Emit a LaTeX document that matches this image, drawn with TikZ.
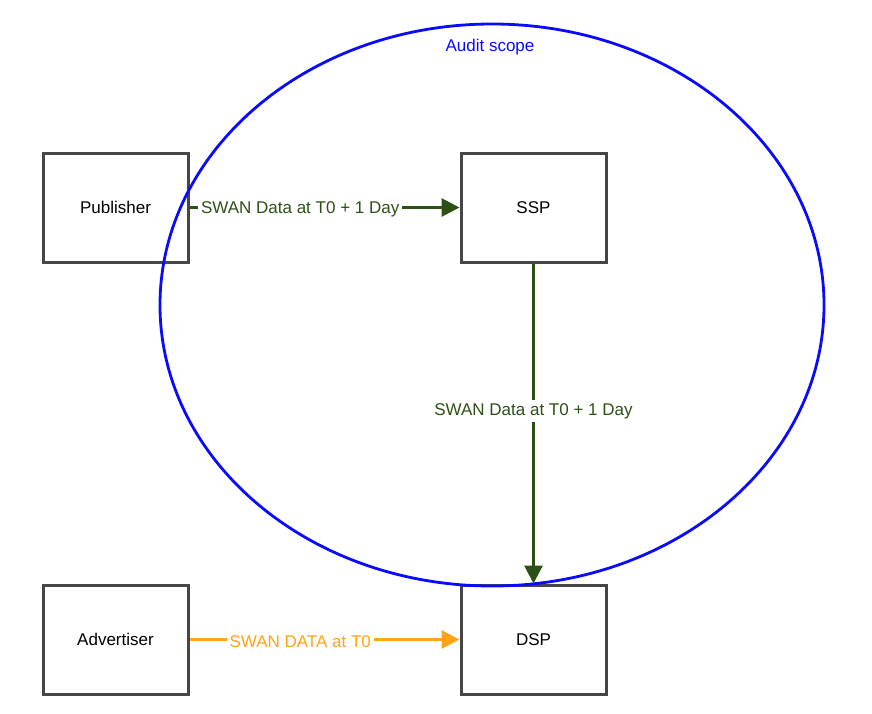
\documentclass[tikz,border=0pt]{standalone}
\usepackage{fontspec}
\setmainfont{Liberation Sans}
\usetikzlibrary{arrows.meta}
\definecolor{boxgray}{RGB}{70,70,70}
\definecolor{flowgreen}{RGB}{45,80,22}
\definecolor{floworange}{RGB}{255,163,26}
\definecolor{scopeblue}{RGB}{10,10,255}
\begin{document}
\begin{tikzpicture}[x=1pt,y=-1pt,
  actor/.style={draw=boxgray,line width=3pt,minimum width=145pt,minimum height=109pt,inner sep=0pt,font=\fontsize{17}{20}\selectfont},
  flow/.style={line width=3pt,-{Triangle[length=18pt,width=18pt]}},
  flowlabel/.style={fill=white,inner sep=3pt,yshift=-2pt,font=\fontsize{17}{20}\selectfont}]
\useasboundingbox (0,0) rectangle (872,713);
\node[actor] (pub) at (115.5,207.5) {Publisher};
\node[actor] (ssp) at (533.5,207.5) {SSP};
\node[actor] (adv) at (115.5,639.5) {Advertiser};
\node[actor] (dsp) at (533.5,639.5) {DSP};
\draw[scopeblue,line width=2.8pt] (492,305) ellipse [x radius=332,y radius=281];
\node[text=scopeblue,font=\fontsize{17}{20}\selectfont] (scope) at (490,47) {Audit scope};
\draw[flow,flowgreen] (pub) -- node[flowlabel,text=flowgreen,pos=0.41] {SWAN Data at T0 + 1 Day} (ssp);
\draw[flow,flowgreen] (ssp) -- node[flowlabel,text=flowgreen,pos=0.455] {SWAN Data at T0 + 1 Day} (dsp);
\draw[flow,floworange] (adv) -- node[flowlabel,text=floworange,pos=0.41] {SWAN DATA at T0} (dsp);
\end{tikzpicture}
\end{document}
